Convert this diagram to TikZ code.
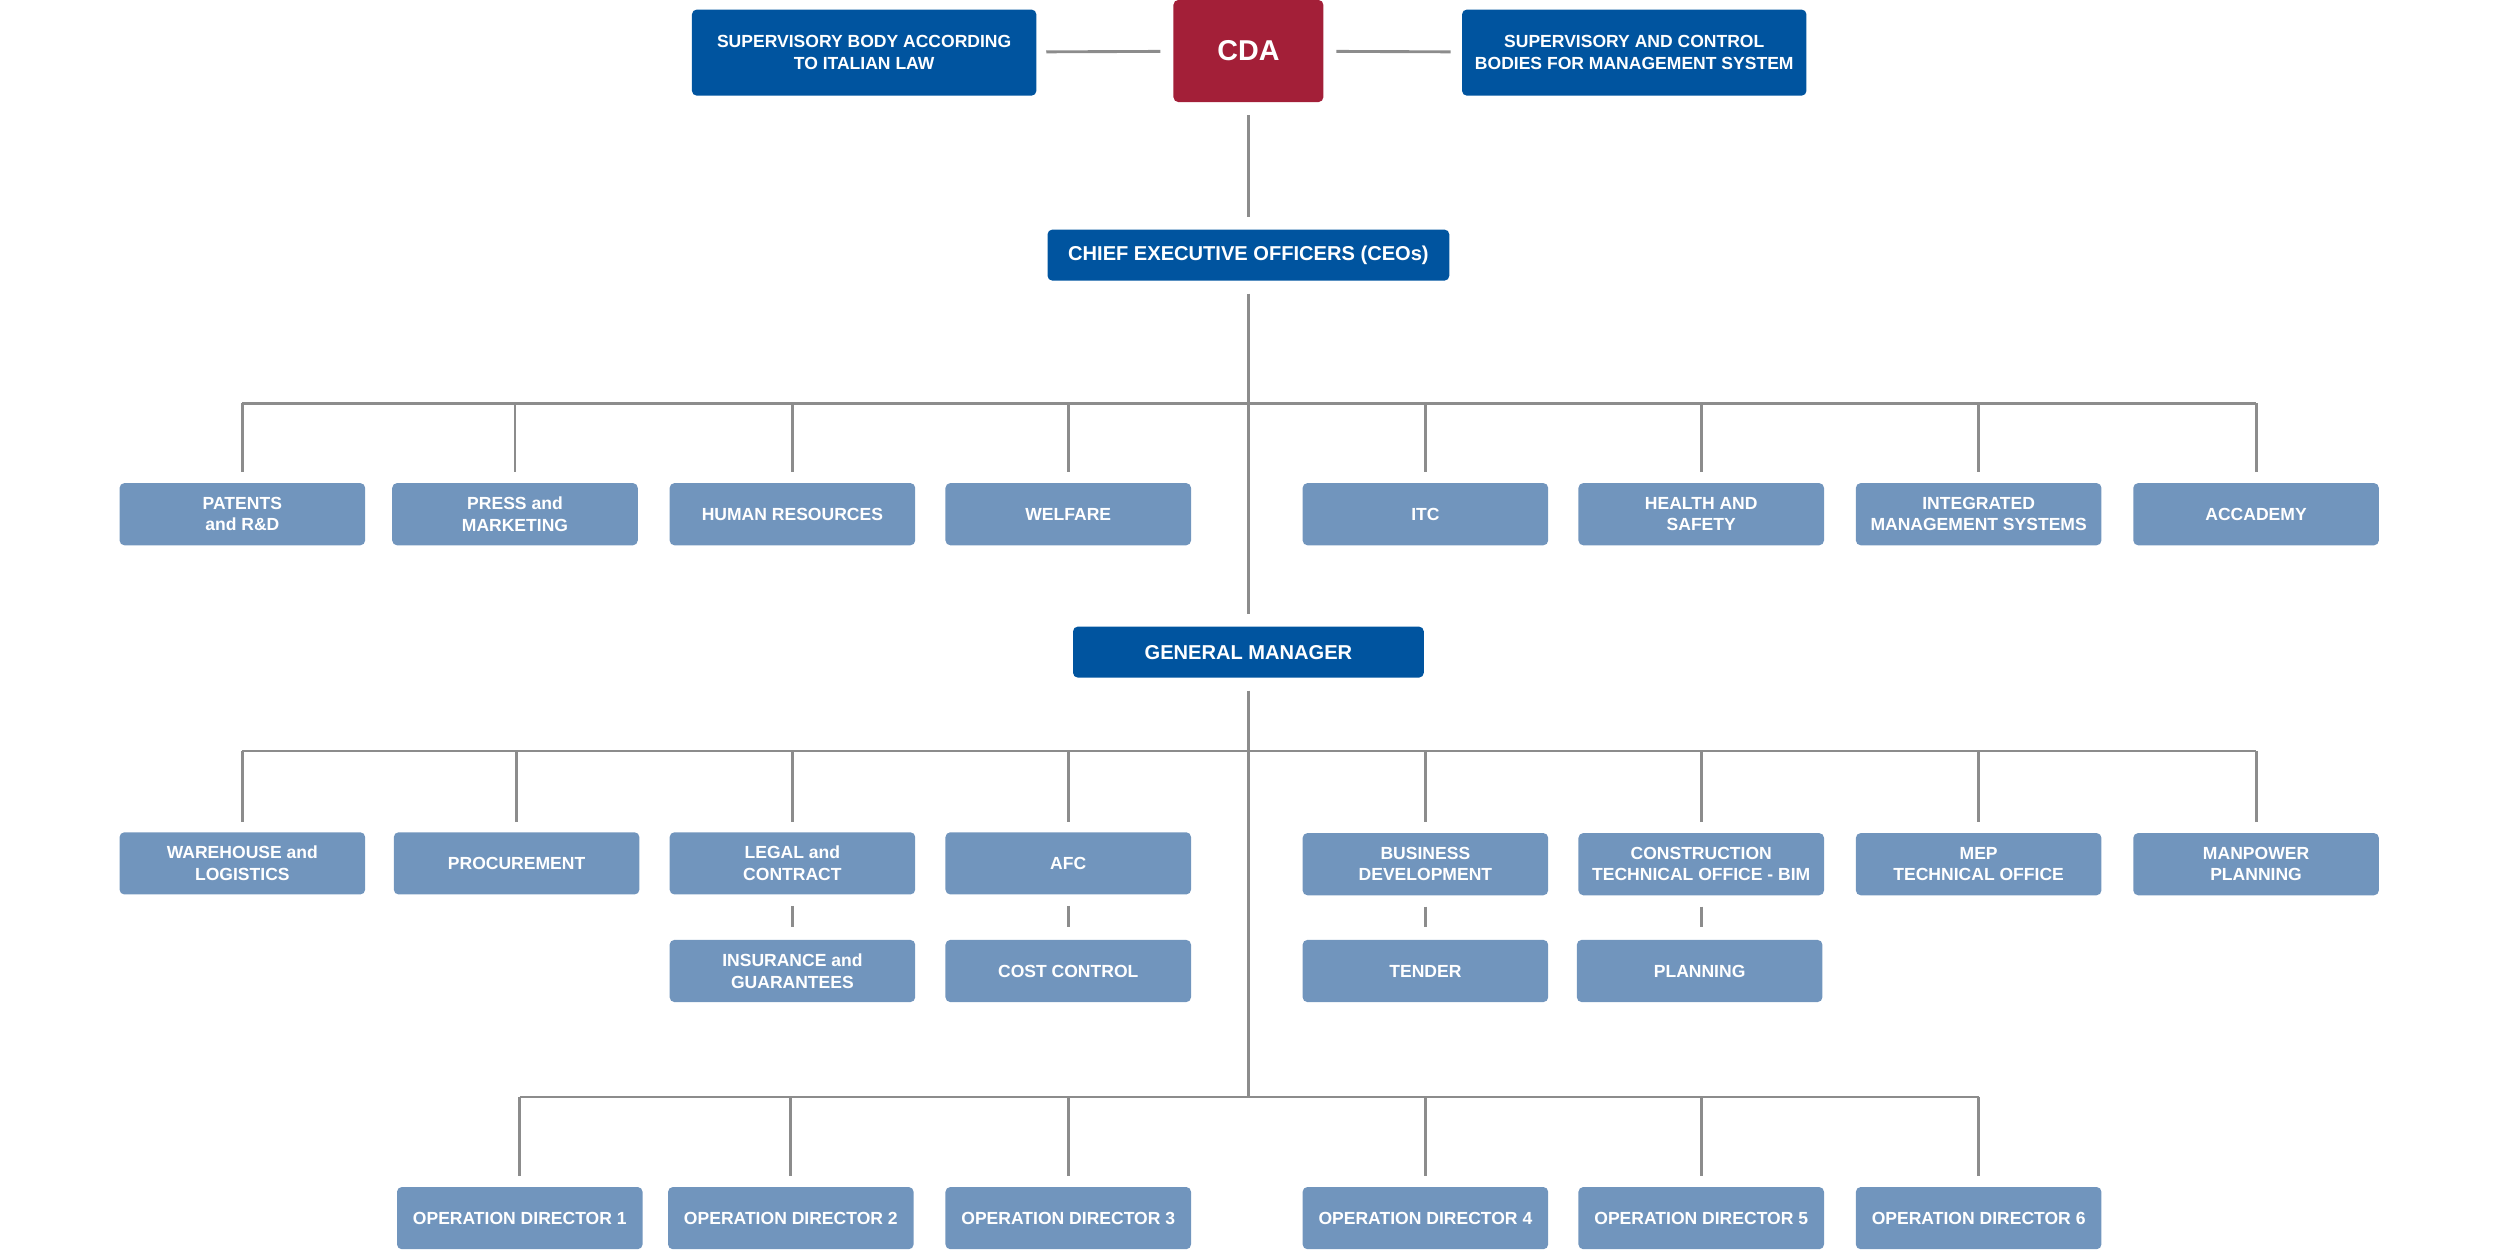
\documentclass[tikz,border=0pt]{standalone}
\usepackage{fontspec}
\setmainfont{Liberation Sans}
\definecolor{db}{RGB}{0,84,159}
\definecolor{lb}{RGB}{113,149,189}
\definecolor{cr}{RGB}{163,31,56}
\definecolor{ln}{RGB}{140,140,140}
\begin{document}
\begin{tikzpicture}[x=1pt,y=-1pt,
  box/.style={rounded corners=3pt,inner sep=0pt,align=center,text=white,
    font=\bfseries\fontsize{11}{13.5}\selectfont},
  light/.style={box,fill=lb,minimum width=154pt,minimum height=39pt},
  dark/.style={box,fill=db},
  conn/.style={draw=ln,line width=1.8pt},
  gap/.style={conn,shorten <=8pt,shorten >=8pt}]
\useasboundingbox (0,0) rectangle (1568,784);
% top
\node[dark,minimum width=216pt,minimum height=54pt] (sb) at (542,33) {SUPERVISORY BODY ACCORDING\\TO ITALIAN LAW};
\node[box,fill=cr,minimum width=94pt,minimum height=64pt,font=\bfseries\fontsize{18}{20}\selectfont] (cda) at (783,32) {CDA};
\node[dark,minimum width=216pt,minimum height=54pt] (sc) at (1025,33) {SUPERVISORY AND CONTROL\\BODIES FOR MANAGEMENT SYSTEM};
\node[dark,minimum width=252pt,minimum height=32pt,font=\bfseries\fontsize{12.6}{14}\selectfont] (ceo) at (783,160) {CHIEF EXECUTIVE OFFICERS (CEOs)};
% row 1
\node[light] (patents) at (152,322.5) {PATENTS\\and R\&D};
\node[light] (press) at (323,322.5) {PRESS and\\MARKETING};
\node[light] (hr) at (497,322.5) {HUMAN RESOURCES};
\node[light] (welfare) at (670,322.5) {WELFARE};
\node[light] (itc) at (894,322.5) {ITC};
\node[light] (health) at (1067,322.5) {HEALTH AND\\SAFETY};
\node[light] (ims) at (1241,322.5) {INTEGRATED\\MANAGEMENT SYSTEMS};
\node[light] (acc) at (1415,322.5) {ACCADEMY};
% GM
\node[dark,minimum width=220pt,minimum height=32pt,font=\bfseries\fontsize{12.6}{14}\selectfont] (gm) at (783,409) {GENERAL MANAGER};
% row 2
\node[light] (wh) at (152,541.5) {WAREHOUSE and\\LOGISTICS};
\node[light] (proc) at (324,541.5) {PROCUREMENT};
\node[light] (legal) at (497,541.5) {LEGAL and\\CONTRACT};
\node[light] (afc) at (670,541.5) {AFC};
\node[light] (bd) at (894,542) {BUSINESS\\DEVELOPMENT};
\node[light] (cto) at (1067,542) {CONSTRUCTION\\TECHNICAL OFFICE - BIM};
\node[light] (mep) at (1241,542) {MEP\\TECHNICAL OFFICE};
\node[light] (mp) at (1415,542) {MANPOWER\\PLANNING};
% sub boxes
\node[light] (ins) at (497,609) {INSURANCE and\\GUARANTEES};
\node[light] (cc) at (670,609) {COST CONTROL};
\node[light] (tender) at (894,609) {TENDER};
\node[light] (plan) at (1066,609) {PLANNING};
% row 3
\node[light] (od1) at (326,764) {OPERATION DIRECTOR 1};
\node[light] (od2) at (496,764) {OPERATION DIRECTOR 2};
\node[light] (od3) at (670,764) {OPERATION DIRECTOR 3};
\node[light] (od4) at (894,764) {OPERATION DIRECTOR 4};
\node[light] (od5) at (1067,764) {OPERATION DIRECTOR 5};
\node[light] (od6) at (1241,764) {OPERATION DIRECTOR 6};
% bus coordinates
\coordinate (b1) at (783,253);
\coordinate (b2) at (783,471);
\coordinate (b3) at (783,688);
% connectors top
\draw[conn,shorten <=6pt,shorten >=8pt] (sb) -- (cda);
\draw[conn,shorten <=8pt,shorten >=7pt] (cda) -- (sc);
\draw[gap] (cda) -- (ceo);
\draw[gap] (ceo) -- (gm);
% bus 1
\draw[conn] (patents.north |- b1) -- (acc.north |- b1);
\foreach \n in {patents,press,hr,welfare,itc,health,ims,acc}
  \draw[conn,shorten >=6.5pt] (\n.north |- b1) -- (\n.north);
% bus 2
\draw[conn,shorten <=8pt] (gm.south) -- (b3);
\draw[conn] (wh.north |- b2) -- (mp.north |- b2);
\foreach \n in {wh,proc,legal,afc,bd,cto,mep,mp}
  \draw[conn,shorten >=6.5pt] (\n.north |- b2) -- (\n.north);
% sub connectors
\draw[conn,shorten <=7pt,shorten >=8pt] (legal) -- (ins);
\draw[conn,shorten <=7pt,shorten >=8pt] (afc) -- (cc);
\draw[conn,shorten <=7pt,shorten >=8pt] (bd.south) -- (bd.south |- tender.north);
\draw[conn,shorten <=7pt,shorten >=8pt] (cto.south) -- (cto.south |- plan.north);
% bus 3
\draw[conn] (od1.north |- b3) -- (od6.north |- b3);
\foreach \n in {od1,od2,od3,od4,od5,od6}
  \draw[conn,shorten >=7pt] (\n.north |- b3) -- (\n.north);
\end{tikzpicture}
\end{document}
